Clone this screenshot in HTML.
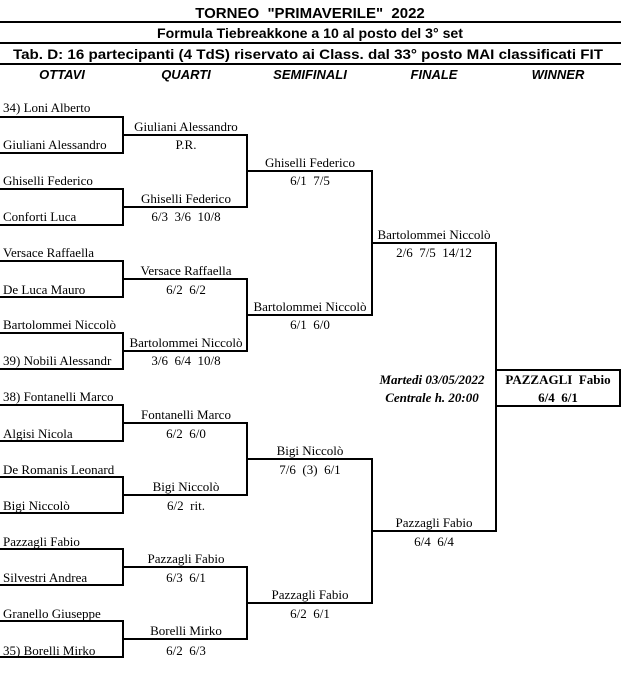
<!DOCTYPE html>
<html><head><meta charset="utf-8"><style>
html,body{margin:0;padding:0;background:#fff;width:621px;height:677px;overflow:hidden}
svg{display:block}
text{white-space:pre}
.h{font-family:"Liberation Sans",Arial,sans-serif;font-weight:bold;fill:#000}
.n{font-family:"Liberation Serif","Times New Roman",serif;font-size:13px;fill:#000}
.c{text-anchor:middle}
</style></head><body>
<svg width="621" height="677" xmlns="http://www.w3.org/2000/svg" xml:space="preserve">
<text class="h c" x="310" y="18" font-size="15">TORNEO  "PRIMAVERILE"  2022</text>
<line x1="0" y1="22" x2="621" y2="22" stroke="#000" stroke-width="2"/>
<text class="h c" x="310" y="38" font-size="14" textLength="306" lengthAdjust="spacingAndGlyphs">Formula Tiebreakkone a 10 al posto del 3° set</text>
<line x1="0" y1="43" x2="621" y2="43" stroke="#000" stroke-width="2"/>
<text class="h c" x="308" y="59" font-size="14" textLength="590" lengthAdjust="spacingAndGlyphs">Tab. D: 16 partecipanti (4 TdS) riservato ai Class. dal 33° posto MAI classificati FIT</text>
<line x1="0" y1="64" x2="621" y2="64" stroke="#000" stroke-width="2"/>
<g class="h c" font-size="13" font-style="italic">
<text x="62" y="79">OTTAVI</text><text x="186" y="79">QUARTI</text><text x="310" y="79">SEMIFINALI</text><text x="434" y="79">FINALE</text><text x="558" y="79">WINNER</text>
</g>
<g stroke="#000" stroke-width="2" fill="none">
<path d="M0 117H123V153H0M0 189H123V225H0M0 261H123V297H0M0 333H123V369H0M0 405H123V441H0M0 477H123V513H0M0 549H123V585H0M0 621H123V657H0"/>
<path d="M123 135H247V207H123M123 279H247V351H123M123 423H247V495H123M123 567H247V639H123"/>
<path d="M247 171H372V315H247M247 459H372V603H247"/>
<path d="M372 243H496V531H372"/>
<rect x="496" y="370" width="124" height="36"/>
</g>
<g class="n">
<text x="3" y="112">34) Loni Alberto</text>
<text x="3" y="149">Giuliani Alessandro</text>
<text x="3" y="185">Ghiselli Federico</text>
<text x="3" y="221">Conforti Luca</text>
<text x="3" y="257">Versace Raffaella</text>
<text x="3" y="294">De Luca Mauro</text>
<text x="3" y="329">Bartolommei Niccolò</text>
<text x="3" y="365">39) Nobili Alessandr</text>
<text x="3" y="401">38) Fontanelli Marco</text>
<text x="3" y="438">Algisi Nicola</text>
<text x="3" y="474">De Romanis Leonard</text>
<text x="3" y="510">Bigi Niccolò</text>
<text x="3" y="546">Pazzagli Fabio</text>
<text x="3" y="582">Silvestri Andrea</text>
<text x="3" y="618">Granello Giuseppe</text>
<text x="3" y="655">35) Borelli Mirko</text>
</g>
<g class="n c">
<text x="186" y="131">Giuliani Alessandro</text><text x="186" y="149">P.R.</text>
<text x="186" y="203">Ghiselli Federico</text><text x="186" y="221">6/3  3/6  10/8</text>
<text x="186" y="275">Versace Raffaella</text><text x="186" y="294">6/2  6/2</text>
<text x="186" y="347">Bartolommei Niccolò</text><text x="186" y="365">3/6  6/4  10/8</text>
<text x="186" y="419">Fontanelli Marco</text><text x="186" y="438">6/2  6/0</text>
<text x="186" y="491">Bigi Niccolò</text><text x="186" y="510">6/2  rit.</text>
<text x="186" y="563">Pazzagli Fabio</text><text x="186" y="582">6/3  6/1</text>
<text x="186" y="635">Borelli Mirko</text><text x="186" y="655">6/2  6/3</text>
<text x="310" y="167">Ghiselli Federico</text><text x="310" y="185">6/1  7/5</text>
<text x="310" y="311">Bartolommei Niccolò</text><text x="310" y="329">6/1  6/0</text>
<text x="310" y="455">Bigi Niccolò</text><text x="310" y="474">7/6  (3)  6/1</text>
<text x="310" y="599">Pazzagli Fabio</text><text x="310" y="618">6/2  6/1</text>
<text x="434" y="239">Bartolommei Niccolò</text><text x="434" y="257">2/6  7/5  14/12</text>
<text x="434" y="527">Pazzagli Fabio</text><text x="434" y="546">6/4  6/4</text>
<text x="558" y="384" font-weight="bold">PAZZAGLI  Fabio</text><text x="558" y="402" font-weight="bold">6/4  6/1</text>
<text x="432" y="384" font-weight="bold" font-style="italic">Martedi 03/05/2022</text>
<text x="432" y="402" font-weight="bold" font-style="italic">Centrale h. 20:00</text>
</g>
</svg>
</body></html>
